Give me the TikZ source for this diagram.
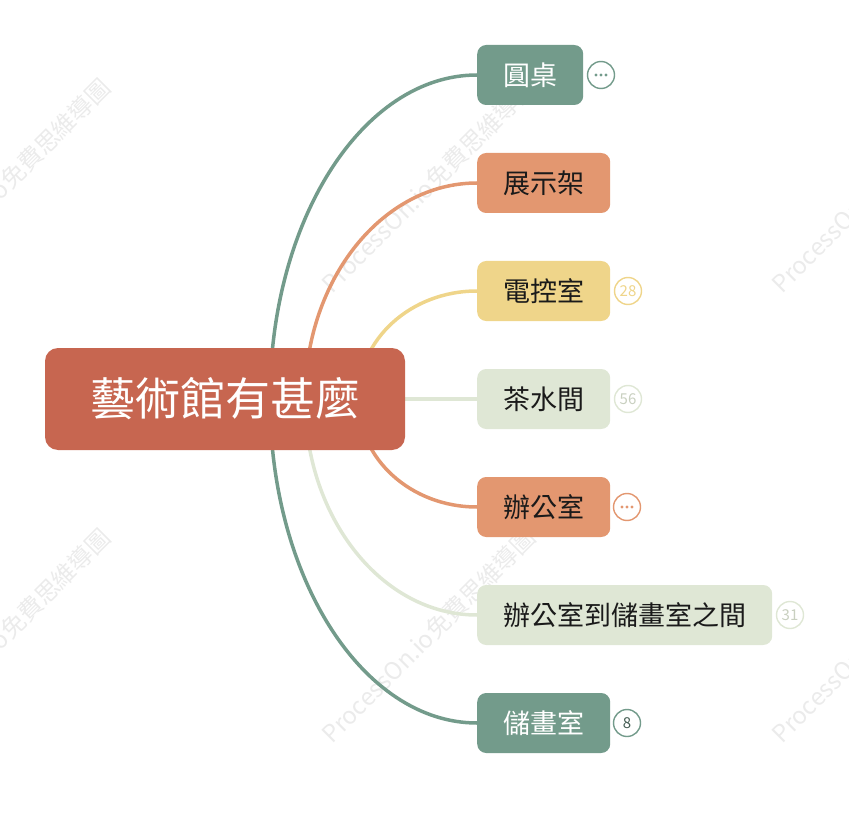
\documentclass[tikz,border=0pt]{standalone}
\usepackage{fontspec}
\setmainfont{Noto Sans CJK TC}
\usetikzlibrary{backgrounds}
\definecolor{tealc}{HTML}{739B8B}
\definecolor{salmonc}{HTML}{E39770}
\definecolor{yellowc}{HTML}{EFD58A}
\definecolor{sagec}{HTML}{DFE7D5}
\definecolor{rootc}{HTML}{C76650}
\definecolor{inkc}{HTML}{1A1A1A}

\begin{document}
\begin{tikzpicture}[x=1pt,y=-1pt,
  root/.style={fill=rootc,text=white,rounded corners=13pt,minimum width=360pt,minimum height=102pt,inner xsep=0pt,font=\fontsize{45}{45}\selectfont},
  topic/.style={anchor=west,rounded corners=9pt,minimum height=60pt,inner xsep=26pt,inner ysep=0pt,font=\fontsize{27}{27}\selectfont},
  badge/.style={circle,draw,line width=1.4pt,fill=white,minimum size=27pt,inner sep=0pt,font=\fontsize{15}{15}\selectfont},
  link/.style={line width=3.5pt},
  wmark/.style={anchor=base west,rotate=45,text=black!8,font=\fontsize{24}{24}\selectfont}]
\useasboundingbox (0,0) rectangle (849,813);
\node[root] (0) at (225,399) {藝術館有甚麼};
\node[topic,fill=tealc,text=white] (1) at (477,75) {圓桌};
\node[topic,fill=salmonc,text=inkc] (2) at (477,183) {展示架};
\node[topic,fill=yellowc,text=inkc] (3) at (477,291) {電控室};
\node[topic,fill=sagec,text=inkc] (4) at (477,399) {茶水間};
\node[topic,fill=salmonc,text=inkc] (5) at (477,507) {辦公室};
\node[topic,fill=sagec,text=inkc] (6) at (477,615) {辦公室到儲畫室之間};
\node[topic,fill=tealc,text=white] (7) at (477,723) {儲畫室};
\node[badge,draw=tealc] (b1) at (601,75) {};
\node[badge,draw=yellowc,text=yellowc] (b3) at (628,291) {28};
\node[badge,draw=sagec,text=sagec!90!black] (b4) at (628,399) {56};
\node[badge,draw=salmonc] (b5) at (627,507) {};
\node[badge,draw=sagec,text=sagec!90!black] (b6) at (790,615) {31};
\node[badge,draw=tealc,text=tealc!60!black] (b7) at (627,723) {8};
\foreach \d in {-5,0,5} {
  \fill[tealc] ([xshift=\d pt]b1.center) circle (1.6pt);
  \fill[salmonc] ([xshift=\d pt]b5.center) circle (1.6pt);
}
\begin{pgfonlayer}{background}
\begin{scope}
\clip (0,0) rectangle (849,813);
\foreach \x [count=\i] in {-95,330,780}
  \foreach \y [count=\j] in {297,747}
    \node[wmark] (w\i\j) at (\x,\y) {ProcessOn.io免費思維導圖};
\end{scope}
\draw[link,tealc] ([xshift=45pt]0.center) .. controls +(0,-179) and +(-114,0) .. (1.west);
\draw[link,salmonc] ([xshift=80pt]0.center) .. controls +(0,-119) and +(-95,0) .. (2.west);
\draw[link,yellowc] ([xshift=133pt]0.center) .. controls +(0,-60) and +(-66,0) .. (3.west);
\draw[link,sagec] (0.east) -- (4.west);
\draw[link,salmonc] ([xshift=133pt]0.center) .. controls +(0,60) and +(-66,0) .. (5.west);
\draw[link,sagec] ([xshift=80pt]0.center) .. controls +(0,119) and +(-95,0) .. (6.west);
\draw[link,tealc] ([xshift=45pt]0.center) .. controls +(0,179) and +(-114,0) .. (7.west);
\end{pgfonlayer}
\end{tikzpicture}
\end{document}
